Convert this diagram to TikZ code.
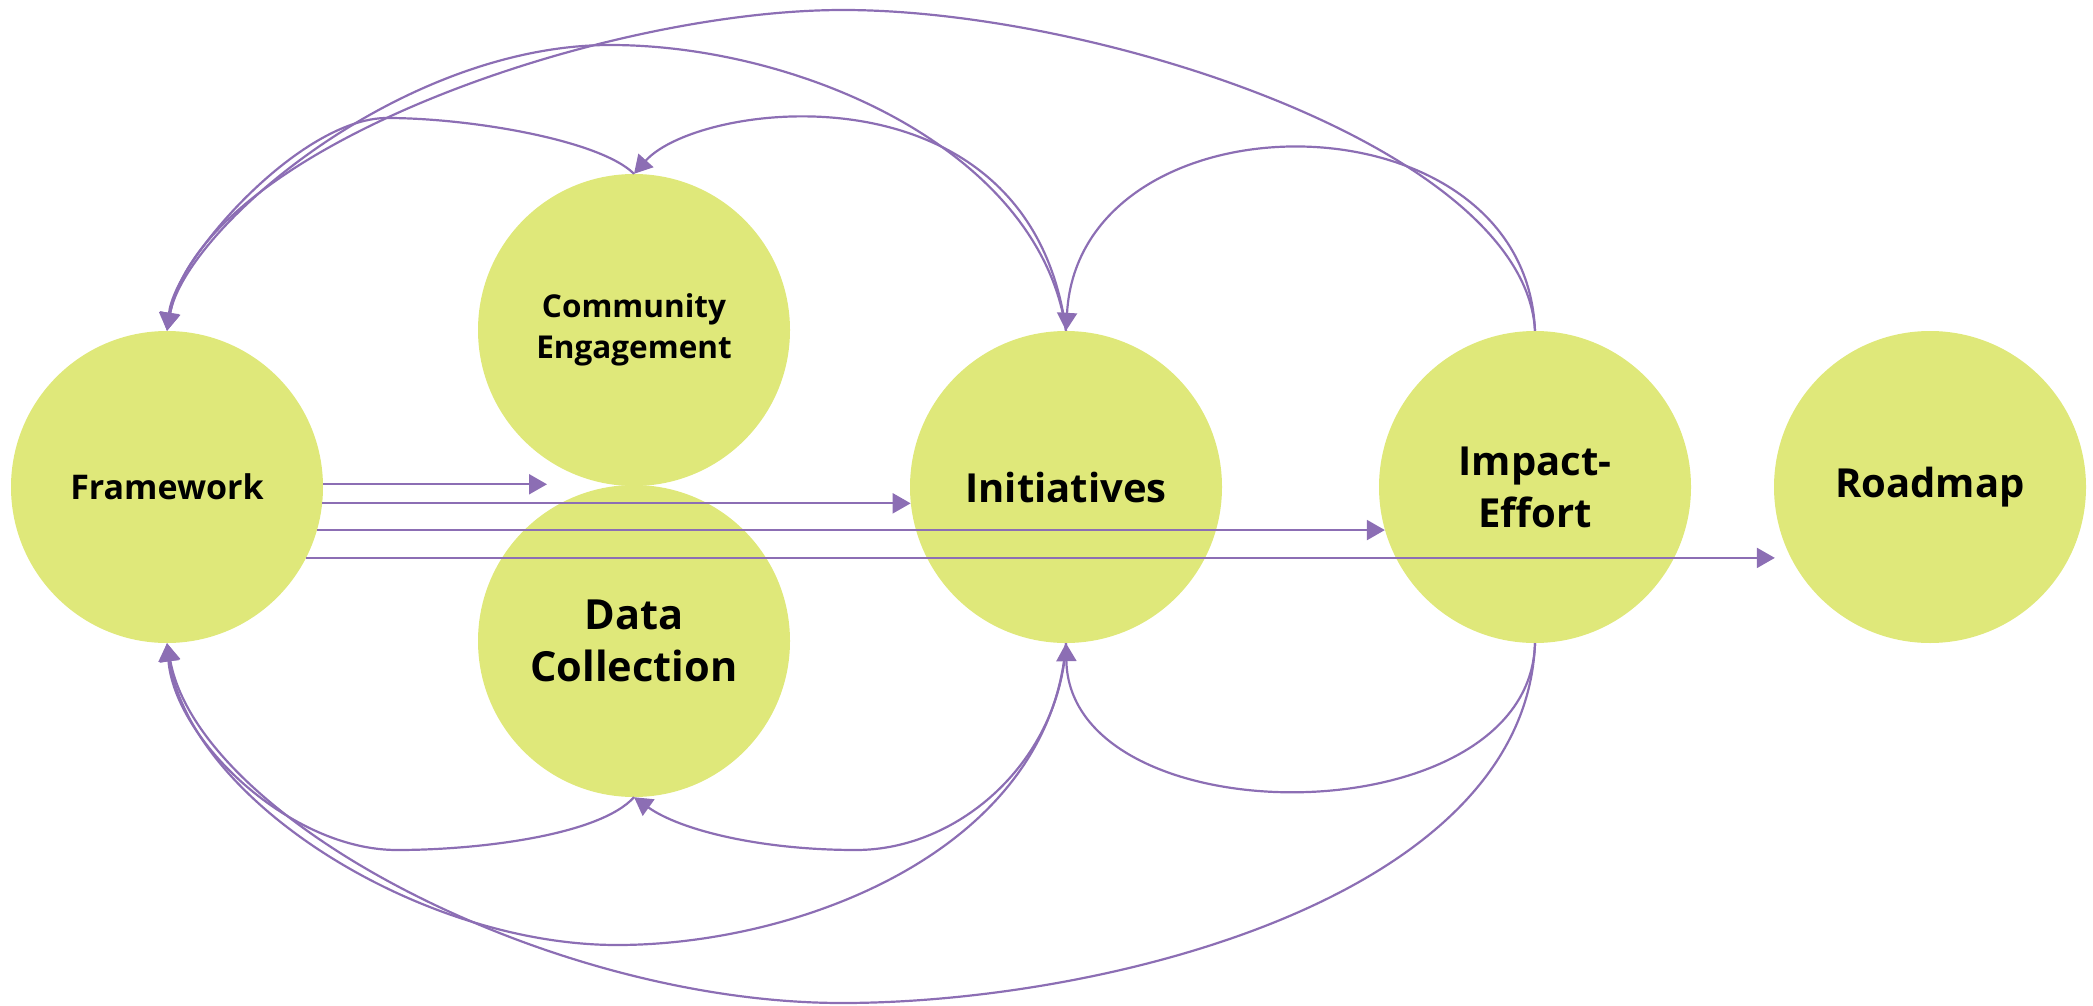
\documentclass[tikz,border=0pt]{standalone}
\usepackage{fontspec}
\setmainfont{Open Sans}
\usetikzlibrary{arrows.meta}

\definecolor{bubble}{RGB}{223,232,122}
\definecolor{linkcol}{RGB}{140,110,180}

\begin{document}
\begin{tikzpicture}[x=1pt,y=-1pt,
    stage/.style={circle,fill=bubble,minimum size=312pt,inner sep=0pt,align=center,
                  font=\bfseries\fontsize{40}{52}\selectfont},
    link/.style={draw=linkcol,line width=2.2pt,-{Triangle[length=18pt,width=20pt]}}]
    \useasboundingbox (0,0) rectangle (2093,1006);

    % the six stages
    \node[stage,font=\bfseries\fontsize{34}{40}\selectfont] (F) at (167,487) {Framework};
    \node[stage,font=\bfseries\fontsize{31.5}{41}\selectfont] (CE) at (634,330) {Community\\Engagement};
    \node[stage,font=\bfseries\fontsize{41.5}{52}\selectfont] (DC) at (634,641) {Data\\Collection};
    \node[stage] (I) at (1066,487) {Initiatives};
    \node[stage] (IE) at (1535,487) {Impact-\\Effort};
    \node[stage] (R) at (1930,487) {Roadmap};

    % straight arrows out of the framework
    \coordinate (stop) at (547,0);
    \draw[link] (F.1) -- (F.1 -| stop);
    \draw[link] (F.-6) -- (I.186);
    \draw[link] (F.-16) -- (IE.196);
    \draw[link,shorten >=16pt] (F.-27.5) -- (R.207.5);

    % loops over the top
    \draw[link] (CE.north) .. controls (600,140) and (470,118) .. (387,118)
                .. controls (300,118) and (175,260) .. (F.north);
    \draw[link] (I.north) .. controls (1040,150) and (800,45) .. (610,45)
                .. controls (400,45) and (185,230) .. (F.north);
    \draw[link] (IE.north) .. controls (1525,150) and (1100,10) .. (843,10)
                .. controls (600,10) and (200,150) .. (F.north);
    \draw[link] (I.north) .. controls (1030,60) and (700,100) .. (CE.north);
    \draw[link] (IE.north) .. controls (1525,88) and (1080,88) .. (I.north);

    % loops underneath
    \draw[link] (DC.south) .. controls (600,835) and (480,850) .. (397,850)
                .. controls (290,850) and (175,740) .. (F.south);
    \draw[link] (I.south) .. controls (1060,760) and (960,850) .. (856,850)
                .. controls (760,850) and (680,830) .. (DC.south);
    \draw[link] (I.south) .. controls (1050,850) and (800,945) .. (617,945)
                .. controls (420,945) and (190,800) .. (F.south);
    \draw[link] (IE.south) .. controls (1525,900) and (1100,1003) .. (842,1003)
                .. controls (550,1003) and (200,820) .. (F.south);
    \draw[link] (IE.south) .. controls (1530,839) and (1070,839) .. (I.south);
\end{tikzpicture}
\end{document}
